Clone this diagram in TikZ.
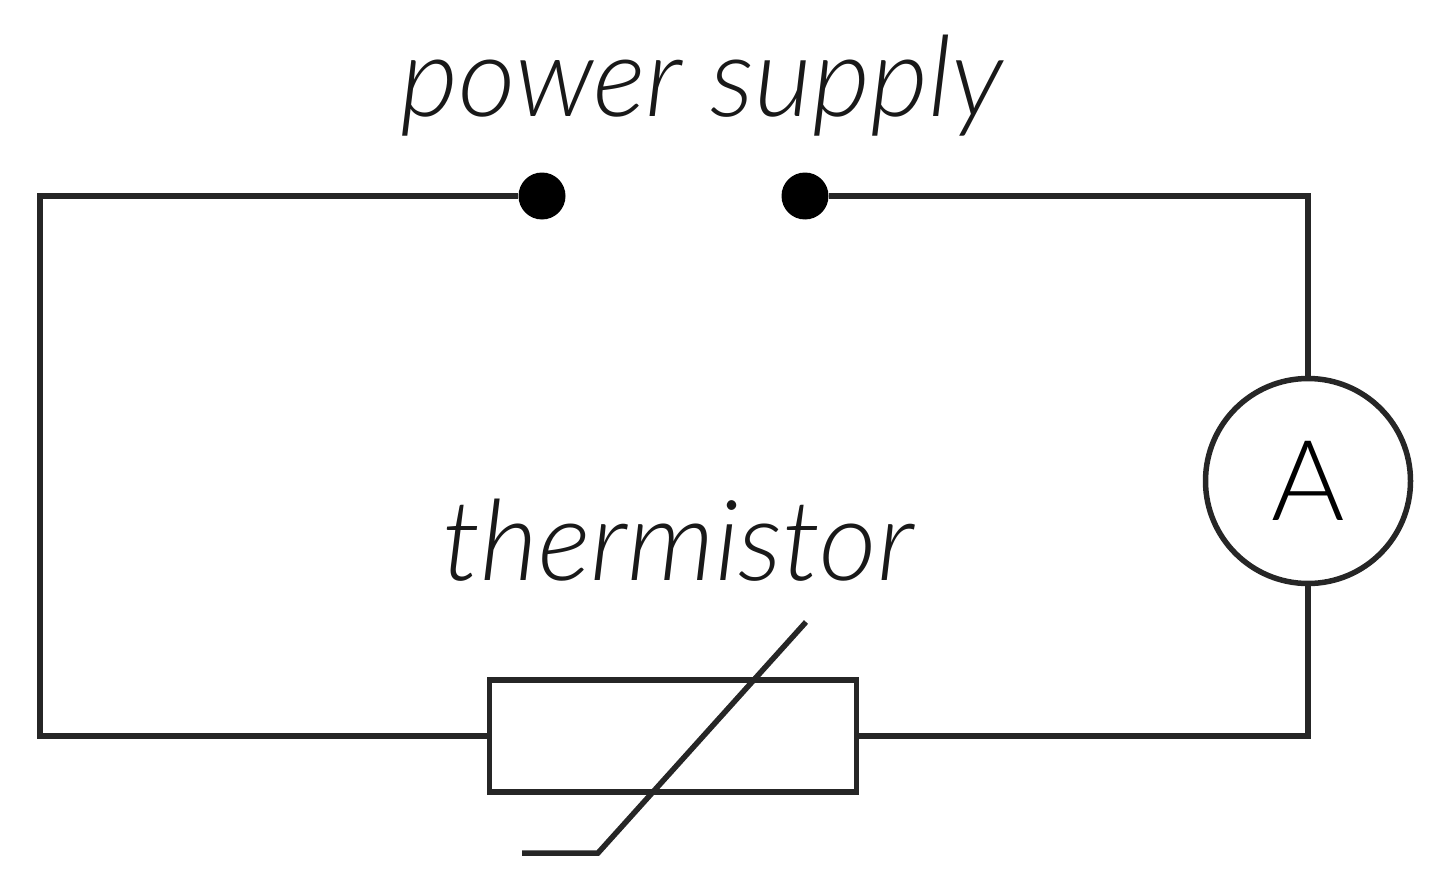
\documentclass[tikz,border=0pt]{standalone}
\usepackage{fontspec}
\setmainfont{Lato Light}[ItalicFont={Lato Light Italic}]
\begin{document}
\begin{tikzpicture}[x=1pt,y=-1pt,
  wire/.style={draw=black!85,line width=5.5pt,line join=miter},
  term/.style={circle,fill=black,minimum size=47pt,inner sep=0pt},
  lab/.style={font=\itshape\fontsize{112}{112}\selectfont,inner sep=0pt,text=black!90}]
\useasboundingbox (0,0) rectangle (1440,888);
\node[term] (t1) at (542,196) {};
\node[term] (t2) at (805,196) {};
\node[circle,draw=black!85,line width=5.5pt,minimum size=205pt,inner sep=0pt,font=\fontsize{112}{112}\selectfont] (am) at (1308,481) {A};
\node[draw=black!85,line width=5.5pt,minimum width=367pt,minimum height=112pt,inner sep=0pt,anchor=center] (th) at (673,736) {};
\coordinate (tl) at (40,196);
\coordinate (bl) at (40,736);
\coordinate (tr) at (1308,196);
\coordinate (br) at (1308,736);
\coordinate (s1) at (522,853);
\coordinate (s2) at (598,853);
\coordinate (s3) at (806,622);
\draw[wire] (t1) -- (tl) -- (bl) -- (th.west);
\draw[wire] (t2) -- (tr) -- (am.north);
\draw[wire] (am.south) -- (br) -- (th.east);
\draw[wire] (s1) -- (s2) -- (s3);
\node[lab] (ps) at (702,86) {power supply};
\node[lab] (tt) at (678,540) {thermistor};
\end{tikzpicture}
\end{document}
